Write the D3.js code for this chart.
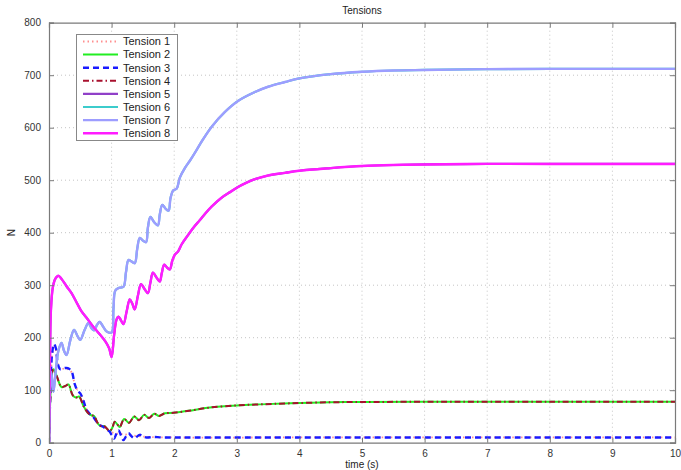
<!DOCTYPE html>
<html>
<head>
<meta charset="utf-8">
<script src="https://cdn.jsdelivr.net/npm/d3@7/dist/d3.min.js"></script>
<style>
  body { margin: 0; background: #fff; }
  svg { display: block; font-family: "Liberation Sans", Arial, sans-serif; }
</style>
</head>
<body>
<svg id="chart" width="681" height="470"></svg>
<script>
// ---- Data (time in s, tension in N) ----
const seriesNames = ["Tension 1","Tension 2","Tension 3","Tension 4","Tension 5","Tension 6","Tension 7","Tension 8"];
const xTicks = [0,1,2,3,4,5,6,7,8,9,10];
const yTicks = [0,100,200,300,400,500,600,700,800];

const tension3 = [[0,0],[0.02,90],[0.05,170],[0.08,188],[0.11,180],[0.14,150],[0.18,140],[0.24,142],[0.3,142],[0.36,136],[0.41,112],[0.46,98],[0.5,94],[0.55,80],[0.6,63],[0.65,55],[0.7,50],[0.76,40],[0.82,33],[0.87,30],[0.93,24],[0.97,21],[1.01,12],[1.04,8],[1.08,18],[1.11,24],[1.15,14],[1.19,5],[1.23,12],[1.27,18],[1.32,12],[1.37,8],[1.41,12],[1.45,15],[1.5,12],[1.56,10],[1.67,11],[1.8,10],[2,10],[4,10],[7,10],[10,10]];
const tension1 = [[0,0],[0.02,85],[0.05,165],[0.08,182],[0.11,176],[0.14,150],[0.18,140],[0.24,141],[0.3,140],[0.36,134],[0.41,112],[0.46,99],[0.5,94],[0.55,80],[0.6,64],[0.65,56],[0.7,50],[0.76,41],[0.82,34],[0.87,30],[0.93,25],[0.97,22],[1.0,20],[1.05,18],[1.2,16],[1.4,13],[1.6,11],[2,10],[4,10],[7,10],[10,10]];
const tension2 = [[0,0],[0.02,80],[0.04,125],[0.07,140],[0.12,128],[0.2,106],[0.26,108],[0.31,111],[0.38,90],[0.43,86],[0.48,88],[0.55,70],[0.62,57],[0.68,52],[0.72,51],[0.79,35],[0.85,31],[0.88,32],[0.97,22],[1.01,28],[1.05,40],[1.09,35],[1.13,30],[1.2,45],[1.28,38],[1.36,50],[1.44,43],[1.52,53],[1.6,47],[1.68,55],[1.76,51],[1.85,56],[1.99,57],[2.3,62],[2.57,67],[3,71],[3.37,73],[3.85,75],[4.5,77],[5,77.5],[6,78],[8,78],[10,78]];
const tension4 = [[0,0],[0.02,82],[0.04,127],[0.07,140],[0.12,128],[0.2,106],[0.26,108],[0.31,111],[0.38,90],[0.43,86],[0.48,88],[0.55,70],[0.62,57],[0.68,52],[0.72,51],[0.79,35],[0.85,31],[0.88,32],[0.97,22],[1.01,28],[1.05,40],[1.09,35],[1.13,30],[1.2,45],[1.28,38],[1.36,50],[1.44,43],[1.52,53],[1.6,47],[1.68,55],[1.76,51],[1.85,56],[1.99,57],[2.3,62],[2.57,67],[3,71],[3.37,73],[3.85,75],[4.5,77],[5,77.5],[6,78],[8,78],[10,78]];
const tension7 = [[0,0],[0.02,110],[0.035,135],[0.07,97],[0.1,128],[0.15,175],[0.2,190],[0.24,175],[0.28,167],[0.34,195],[0.4,215],[0.46,202],[0.5,196],[0.57,215],[0.63,228],[0.68,218],[0.72,214],[0.77,225],[0.81,230],[0.87,220],[0.92,212],[1.0,210],[1.03,255],[1.06,290],[1.12,295],[1.19,297],[1.23,325],[1.27,348],[1.32,345],[1.37,342],[1.41,370],[1.45,390],[1.5,385],[1.55,382],[1.58,410],[1.62,430],[1.68,420],[1.74,414],[1.77,435],[1.81,453],[1.86,446],[1.91,442],[1.94,465],[1.98,480],[2.04,484],[2.09,505],[2.17,523],[2.25,537],[2.35,556],[2.44,574],[2.6,602],[2.81,630],[3.02,651],[3.29,668],[3.5,678],[3.77,687],[4,694],[4.5,702],[5,706.5],[5.5,709],[6,710],[7,711.5],[8,712],[10,712]];
const tension8 = [[0,0],[0.015,150],[0.03,250],[0.06,295],[0.1,312],[0.15,318],[0.2,312],[0.28,298],[0.36,285],[0.45,265],[0.52,250],[0.6,238],[0.7,222],[0.8,208],[0.9,193],[0.96,180],[1.0,163],[1.04,205],[1.08,235],[1.11,240],[1.15,233],[1.19,226],[1.24,250],[1.29,273],[1.33,265],[1.37,254],[1.42,280],[1.47,302],[1.53,292],[1.58,285],[1.62,305],[1.66,324],[1.72,314],[1.77,307],[1.8,322],[1.84,339],[1.89,333],[1.93,330],[1.97,347],[2.01,358],[2.06,364],[2.12,378],[2.2,392],[2.31,410],[2.41,424],[2.5,437],[2.6,450],[2.76,467],[2.9,478],[3.02,487],[3.15,495],[3.29,502],[3.5,509],[3.77,514],[4.0,518],[4.5,523],[5,527],[5.5,529],[6,530],[7,531],[8,531],[10,531]];
// Tensions 5 and 6 coincide with 8 and 7 and are hidden beneath them
const tension5 = tension8;
const tension6 = tension7;

const seriesData = [tension1, tension2, tension3, tension4, tension5, tension6, tension7, tension8];

// ---- Styles ----
const styles = [
  { color: "#ff8f8f", width: 1.8, dash: "1.5,3" },
  { color: "#22ee22", width: 2,   dash: null },
  { color: "#1a1aff", width: 2.4, dash: "6,4" },
  { color: "#a8102e", width: 2,   dash: "6,3,1.5,3" },
  { color: "#9040c8", width: 2.2, dash: null },
  { color: "#3ccccc", width: 2.2, dash: null },
  { color: "#9d9dff", width: 2.4, dash: null },
  { color: "#ff1cff", width: 2.4, dash: null }
];

const svg = d3.select("#chart");
const margin = { left: 49, right: 6, top: 22.7, bottom: 27.3 };
const W = 681, H = 470;
const x = d3.scaleLinear().domain([0, 10]).range([margin.left, W - margin.right]);
const y = d3.scaleLinear().domain([0, 800]).range([H - margin.bottom, margin.top]);

const x0 = x.range()[0], x1 = x.range()[1], y0 = y.range()[0], y1 = y.range()[1];

// grid
const grid = svg.append("g");
grid.selectAll(".gx").data(xTicks.slice(1, -1)).enter().append("line")
  .attr("x1", d => x(d)).attr("x2", d => x(d)).attr("y1", y1).attr("y2", y0)
  .attr("stroke", "#c4c4c4").attr("stroke-width", 1).attr("stroke-dasharray", "1,3");
grid.selectAll(".gy").data(yTicks.slice(1, -1)).enter().append("line")
  .attr("y1", d => y(d)).attr("y2", d => y(d)).attr("x1", x0).attr("x2", x1)
  .attr("stroke", "#c4c4c4").attr("stroke-width", 1).attr("stroke-dasharray", "1,3");

// lines
const line = d3.line().x(d => x(d[0])).y(d => y(d[1])).curve(d3.curveCatmullRom.alpha(0.5));
const clip = svg.append("clipPath").attr("id", "clip").append("rect")
  .attr("x", x0).attr("y", y1 - 2).attr("width", x1 - x0).attr("height", y0 - y1 + 2);
const lines = svg.append("g").attr("clip-path", "url(#clip)");
seriesData.forEach((s, i) => {
  lines.append("path").attr("d", line(s)).attr("fill", "none")
    .attr("stroke", styles[i].color).attr("stroke-width", styles[i].width)
    .attr("stroke-dasharray", styles[i].dash).attr("stroke-linejoin", "round");
});

// axes (box with inward ticks on all sides)
const axisColor = "#7a7a7a";
const tickLen = 5;
const axB = svg.append("g").attr("transform", `translate(0,${y0})`)
  .call(d3.axisBottom(x).tickValues(xTicks).tickSize(-tickLen).tickPadding(6).tickFormat(d3.format("d")));
const axT = svg.append("g").attr("transform", `translate(0,${y1})`)
  .call(d3.axisTop(x).tickValues(xTicks).tickSize(-tickLen).tickFormat(""));
const axL = svg.append("g").attr("transform", `translate(${x0},0)`)
  .call(d3.axisLeft(y).tickValues(yTicks).tickSize(-tickLen).tickPadding(8).tickFormat(d3.format("d")));
const axR = svg.append("g").attr("transform", `translate(${x1},0)`)
  .call(d3.axisRight(y).tickValues(yTicks).tickSize(-tickLen).tickFormat(""));
[axB, axT, axL, axR].forEach(a => {
  a.select(".domain").attr("stroke", axisColor).attr("stroke-width", 1.2);
  a.selectAll(".tick line").attr("stroke", axisColor);
  a.selectAll(".tick text").attr("fill", "#333").attr("font-size", 10)
    .attr("font-family", "'Liberation Sans', Arial, sans-serif");
});
axB.selectAll(".tick text").attr("dy", "0.85em");

// titles
svg.append("text").attr("x", (x0 + x1) / 2).attr("y", 14).attr("text-anchor", "middle")
  .attr("font-size", 10).attr("fill", "#222").text("Tensions");
svg.append("text").attr("x", (x0 + x1) / 2).attr("y", 468).attr("text-anchor", "middle")
  .attr("font-size", 10).attr("fill", "#222").text("time (s)");
svg.append("text").attr("transform", `translate(15,${(y0 + y1) / 2}) rotate(-90)`)
  .attr("text-anchor", "middle").attr("font-size", 10).attr("fill", "#222").text("N");

// legend
const lg = svg.append("g");
lg.append("rect").attr("x", 76.5).attr("y", 34.5).attr("width", 101).attr("height", 106)
  .attr("fill", "#fff").attr("stroke", "#888").attr("stroke-width", 1);
seriesNames.forEach((name, i) => {
  const ly = 41.5 + i * 13.1;
  lg.append("line").attr("x1", 83).attr("x2", 118).attr("y1", ly).attr("y2", ly)
    .attr("stroke", styles[i].color).attr("stroke-width", styles[i].width)
    .attr("stroke-dasharray", styles[i].dash);
  lg.append("text").attr("x", 123).attr("y", ly).attr("dy", "0.35em")
    .attr("font-size", 11).attr("fill", "#222").text(name);
});
</script>
</body>
</html>
